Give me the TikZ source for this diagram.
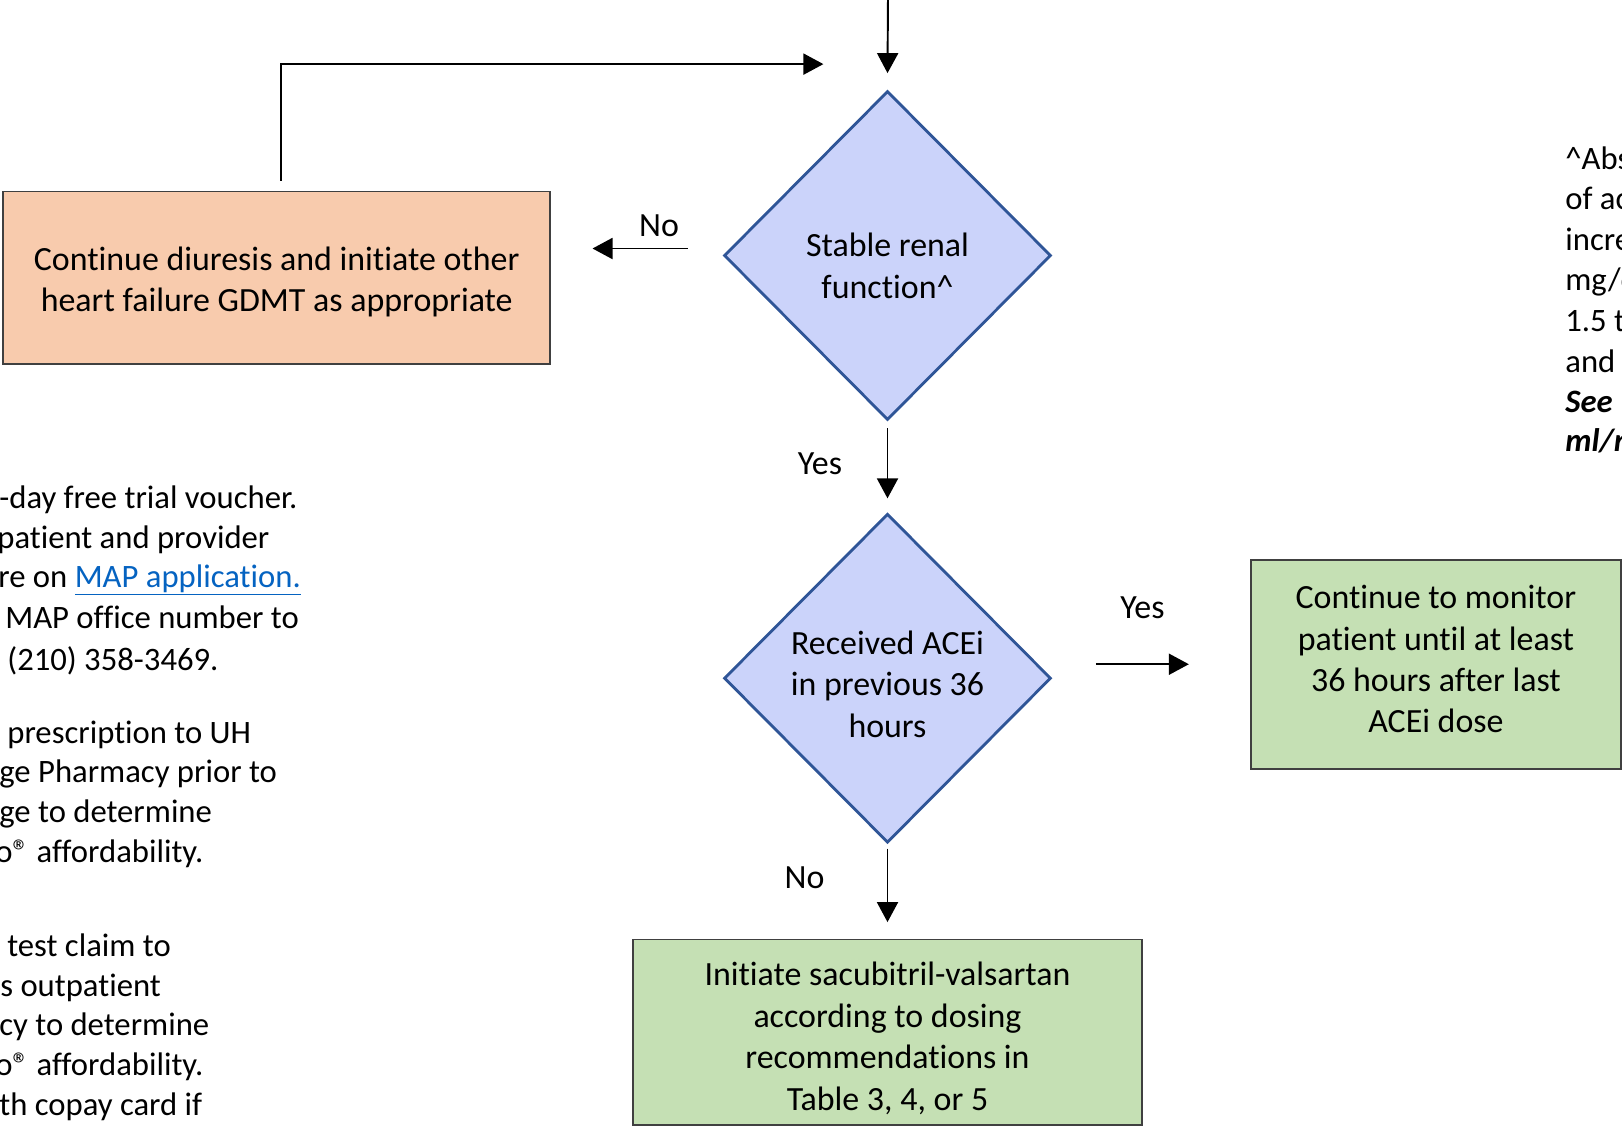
\documentclass[tikz,border=0pt]{standalone}
\usepackage{fontspec}
\setmainfont{Carlito}[Ligatures=NoCommon]
\usetikzlibrary{shapes.geometric, arrows.meta, calc, positioning}
\definecolor{decfill}{HTML}{CBD3FA}
\definecolor{decdraw}{HTML}{2F5597}
\definecolor{peach}{HTML}{F8CBAD}
\definecolor{sage}{HTML}{C5E0B4}
\definecolor{linkblue}{HTML}{0563C1}
\newcommand{\flowfont}{\fontsize{19.3}{23.6}\selectfont}
\newcommand{\notefont}{\fontsize{18.6}{22.8}\selectfont}
\tikzstyle{boxtext} = [font=\flowfont, align=center]
\tikzstyle{decision} = [diamond, draw=decdraw, line width=1.6pt, fill=decfill, inner sep=0pt, minimum width=6.54cm, minimum height=6.58cm]
\tikzstyle{block} = [rectangle, draw=black!75, line width=1pt]
\tikzstyle{line} = [draw, line width=1.1pt, -{Triangle[length=0.4cm, width=0.42cm]}]
\tikzstyle{note} = [anchor=base west, inner sep=0pt, font=\notefont]

\begin{document}
\begin{tikzpicture}[x=0.02cm, y=-0.02cm]
        \useasboundingbox (0,0) rectangle (1622,1127);

        \node[decision, label={[boxtext, yshift=-0.21cm]center:{Stable renal\\function\textasciicircum}}] (renal) at (887.5,255.5) {};

        \node[block, fill=peach, minimum width=10.94cm, minimum height=3.45cm, label={[boxtext, yshift=-0.08cm]center:{Continue diuresis and initiate other\\heart failure GDMT as appropriate}}] (diuresis) at (276.7,277.8) {};

        \node[decision, below=1.82cm of renal, label={[boxtext, yshift=-0.12cm]center:{Received ACEi\\in previous 36\\hours}}] (acei) {};

        \node[block, fill=sage, minimum width=7.41cm, minimum height=4.18cm, right=3.95cm of acei, yshift=0.28cm, label={[boxtext, yshift=0.1cm]center:{Continue to monitor\\patient until at least\\36 hours after last\\ACEi dose}}] (monitor) {};

        \node[block, fill=sage, minimum width=10.18cm, minimum height=3.71cm, below=1.89cm of acei, label={[boxtext, yshift=-0.12cm]center:{Initiate sacubitril-valsartan\\according to dosing\\recommendations in\\Table 3, 4, or 5}}] (sacval) {};

        \coordinate (entry) at (888,-5);
        \coordinate (back) at (823.4,64.1);

        \path[line] (entry) -- ([yshift=0.33cm]renal.north);
        \path[draw, line width=1.1pt] ($(diuresis.north)+(4.7,-10)$) |- ([xshift=-0.4cm]back);
        \path[line] ([xshift=-0.4cm]back) -- (back);
        \path[line] ([xshift=-0.7cm,yshift=0.14cm]renal.west) -- ([xshift=0.83cm,yshift=0.14cm]renal.west -| diuresis.east) node[pos=0.3, above=3pt, font=\flowfont] {No};
        \path[line] ([yshift=-0.14cm]renal.south) -- ([yshift=0.28cm]acei.north) node[midway, left=22pt, font=\flowfont] {Yes};
        \path[line] ([xshift=0.87cm]acei.east |- monitor.west) -- ([xshift=-1.22cm]monitor.west) node[midway, above=22pt, font=\flowfont] {Yes};
        \path[line] ([yshift=-0.09cm]acei.south) -- ([yshift=0.33cm]sacval.north) node[pos=0.4, left=32pt, font=\flowfont] {No};

        % left side notes
        \node[note] (l1) at (-1,508.5) {-day free trial voucher.};
        \node[note] (l2) at (-3,548) {patient and provider};
        \node[note] (l3) at (-2,587) {re on \textcolor{linkblue}{\underline{MAP application.}}};
        \node[note] (l4) at (5,628.5) {MAP office number to};
        \node[note] (l5) at (7,670) {(210) 358-3469.};
        \node[note] (l6) at (7,743.5) {prescription to UH};
        \node[note] (l7) at (-1,782.5) {ge Pharmacy prior to};
        \node[note] (l8) at (-1,822) {ge to determine};
        \node[note] (l9) at (-5,862.5) {o® affordability.};
        \node[note] (l10) at (7,956.5) {test claim to};
        \node[note] (l11) at (0,996) {s outpatient};
        \node[note] (l12) at (-1,1035) {cy to determine};
        \node[note] (l13) at (-5,1075.5) {o® affordability.};
        \node[note] (l14) at (-1,1115.5) {th copay card if};

        % right side notes
        \node[note] (r1) at (1565,169) {\textasciicircum Absence};
        \node[note] (r2) at (1565,209.6) {of acute};
        \node[note] (r3) at (1565,250) {increase};
        \node[note] (r4) at (1565,290) {mg/dL};
        \node[note] (r5) at (1565,331.7) {1.5 times};
        \node[note] (r6) at (1565,372) {and};
        \node[note] (r7) at (1565,412) {\textbf{\textit{See}}};
        \node[note] (r8) at (1565,451.7) {\textbf{\textit{ml/min}}};
\end{tikzpicture}
\end{document}
